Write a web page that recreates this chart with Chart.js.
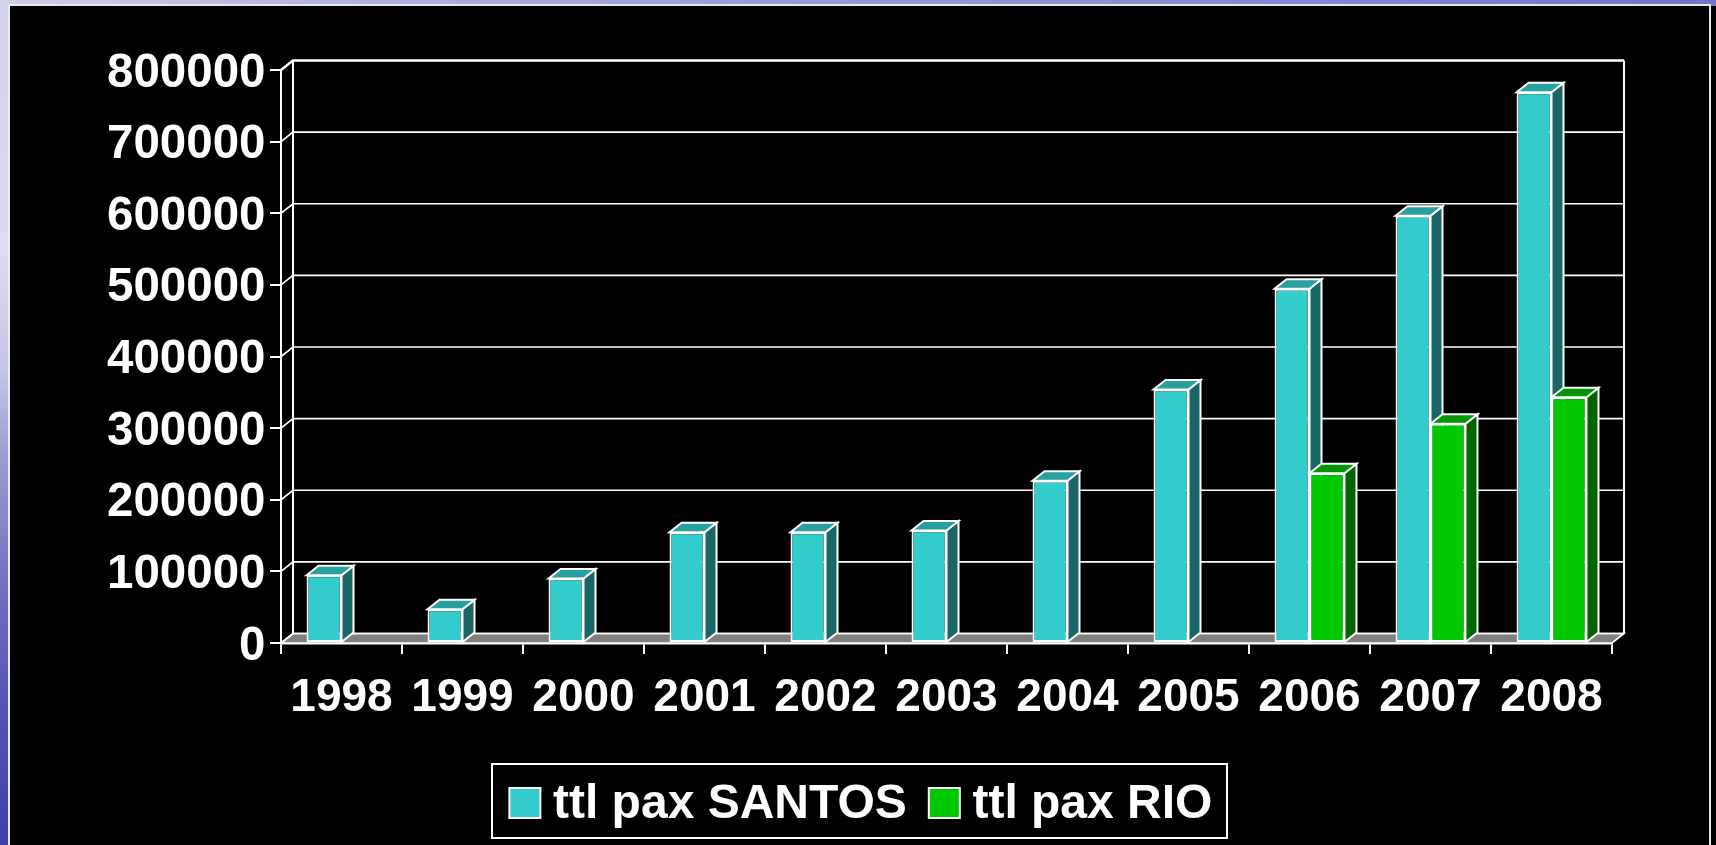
<!DOCTYPE html>
<html><head><meta charset="utf-8">
<script src="https://cdn.jsdelivr.net/npm/chart.js@4"></script>
<style>
html,body{margin:0;padding:0;width:1716px;height:845px;overflow:hidden;background:#000}
#top{position:absolute;left:0;top:0;width:1716px;height:6px;background:linear-gradient(90deg,#cfcfea 0%,#b4b4e0 18%,#9a9ad8 45%,#8c8cd4 70%,#7474c8 100%)}
#left{position:absolute;left:0;top:0;width:8px;height:845px;background:linear-gradient(180deg,#d2d2ec 0%,#dcdcf0 30%,#c4c4e4 44%,#9c9cd0 54%,#6e6ec0 70%,#5252b4 85%,#3e3eac 100%)}
#panel{position:absolute;left:8px;top:4px;width:1703px;height:845px;background:#000;border:2px solid #e8e8e8;box-sizing:border-box}
canvas{position:absolute;left:0;top:0}
</style></head><body>
<div id="top"></div><div id="left"></div><div id="panel"></div>
<canvas id="c" width="1716" height="845" style="width:1716px;height:845px"></canvas>
<script>
const categories=['1998','1999','2000','2001','2002','2003','2004','2005','2006','2007','2008'];
const santosValues=[94500,47000,90000,154500,154500,157000,226500,354000,494500,596500,769000];
const rioValues=[null,null,null,null,null,null,null,null,237000,306000,343000];
const santosLabel='ttl pax SANTOS';
const rioLabel='ttl pax RIO';

const DX=12,DY=9.5,WHITE='#ffffff';
function poly(ctx,pts,fill,lw){
  ctx.beginPath();pts.forEach((p,i)=>i?ctx.lineTo(p[0],p[1]):ctx.moveTo(p[0],p[1]));ctx.closePath();
  ctx.fillStyle=fill;ctx.fill();ctx.strokeStyle=WHITE;ctx.lineWidth=lw;ctx.stroke();
}
const frame3d={
  id:'frame3d',
  afterLayout(chart){
    const lg=chart.legend;lg.left=4.4;lg.right=1716;lg.top=760;lg.bottom=760+lg.height;lg.adjustHitBoxes();
  },
  beforeDraw(chart){
    const {y}=chart.scales;
    y.getLabelItems(chart.chartArea).forEach(it=>{if(!it.moved){it.options.translation[1]+=3.5;it.moved=true;}});
  },
  beforeDatasetsDraw(chart){
    const {ctx,chartArea:a,scales:{y}}=chart;ctx.save();
    poly(ctx,[[a.left,a.bottom],[a.left+DX,a.bottom-DY],[a.right+DX,a.bottom-DY],[a.right,a.bottom]],'#808080',1.6);
    ctx.strokeStyle=WHITE;
    y.ticks.forEach(t=>{
      const py=y.getPixelForValue(t.value);
      ctx.lineWidth=t.value===y.max?2.5:1.6;
      ctx.beginPath();ctx.moveTo(a.left,py);ctx.lineTo(a.left+DX,py-DY);ctx.lineTo(a.right+DX,py-DY);ctx.stroke();
    });
    ctx.lineWidth=2;
    ctx.beginPath();
    ctx.moveTo(a.left+DX,a.top-DY);ctx.lineTo(a.left+DX,a.bottom-DY);
    ctx.moveTo(a.right+DX,a.top-DY);ctx.lineTo(a.right+DX,a.bottom-DY);
    ctx.stroke();
    ctx.lineJoin='miter';
    chart.data.datasets.forEach((ds,di)=>{
      chart.getDatasetMeta(di).data.forEach((el,i)=>{
        if(ds.data[i]==null)return;
        const L=el.x-el.width/2,R=el.x+el.width/2,T=el.y,B=el.base;
        poly(ctx,[[R,T],[R+DX,T-DY],[R+DX,B-DY],[R,B]],ds.sideColor,2);
        poly(ctx,[[L,T],[L+DX,T-DY],[R+DX,T-DY],[R,T]],ds.topColor,2);
      });
    });
    ctx.restore();
  },
  afterDraw(chart){
    const {ctx}=chart,lg=chart.legend,hb=lg.legendHitBoxes;ctx.save();
    ctx.strokeStyle=WHITE;ctx.lineWidth=2;
    ctx.strokeRect(492,764,735,74);
    hb.forEach((b,i)=>{
      ctx.fillStyle=chart.data.datasets[i].backgroundColor;ctx.lineWidth=2;
      ctx.fillRect(b.left+1.4,788,31,30);ctx.strokeRect(b.left+1.4,788,31,30);
    });
    ctx.restore();
  }
};
const family='"Liberation Sans",Arial,sans-serif';
new Chart(document.getElementById('c'),{
  type:'bar',
  plugins:[frame3d],
  data:{labels:categories,datasets:[
    {label:santosLabel,data:santosValues,backgroundColor:'#33CCCC',sideColor:'#1A6666',topColor:'#299F9F',borderColor:WHITE,borderWidth:2,borderSkipped:false},
    {label:rioLabel,data:rioValues,backgroundColor:'#00C800',sideColor:'#006400',topColor:'#009600',borderColor:WHITE,borderWidth:2,borderSkipped:false}
  ]},
  options:{
    responsive:false,animation:false,devicePixelRatio:1,
    layout:{padding:{top:70,right:104,left:0,bottom:0}},
    categoryPercentage:0.578,barPercentage:1,
    plugins:{
      title:{display:false},tooltip:{enabled:false},
      legend:{display:true,position:'bottom',onClick:null,
        labels:{color:WHITE,boxWidth:21,boxHeight:30,padding:20.6,font:{family,weight:'bold',size:48},
          generateLabels(chart){return chart.data.datasets.map((d,i)=>({text:d.label,datasetIndex:i,fillStyle:'rgba(0,0,0,0)',strokeStyle:'rgba(0,0,0,0)',lineWidth:0,fontColor:WHITE}));}
        }}
    },
    scales:{
      x:{
        afterFit(s){s.height=202-s.chart.legend.height;},
        grid:{drawOnChartArea:false,color:WHITE,lineWidth:2,tickLength:11,offset:true},
        border:{color:WHITE,width:2.5},
        ticks:{color:WHITE,font:{family,weight:'bold',size:46},padding:17,maxRotation:0,autoSkip:false}
      },
      y:{
        min:0,max:800000,
        afterFit(s){s.width=281;},
        grid:{drawOnChartArea:false,color:WHITE,lineWidth:2,tickLength:11},
        border:{color:WHITE,width:2},
        ticks:{color:WHITE,font:{family,weight:'bold',size:47.5},padding:4.5,stepSize:100000,callback:v=>String(v)}
      }
    }
  }
});
</script></body></html>
